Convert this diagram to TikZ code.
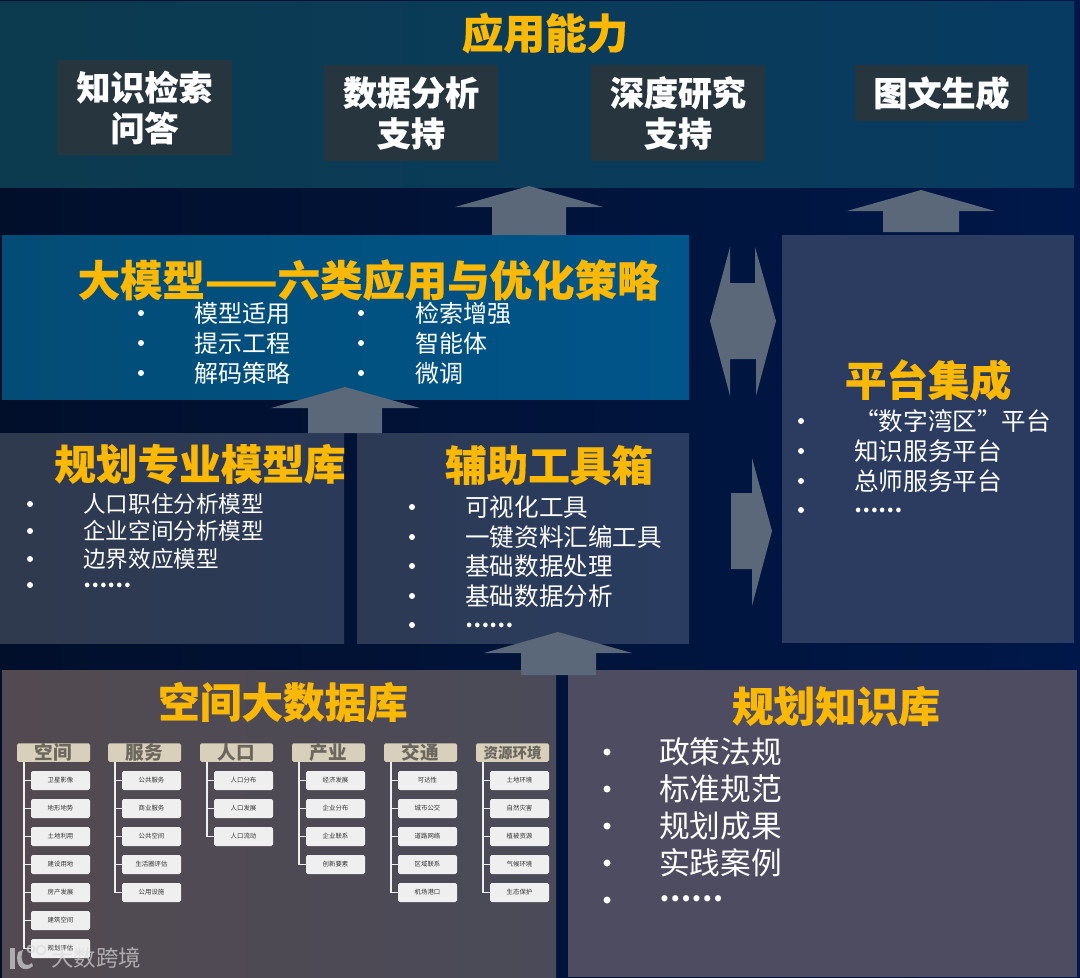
\documentclass[tikz,border=0pt]{standalone}
\usepackage{fontspec}
\setmainfont{Noto Sans CJK SC}
\newfontfamily\ttlf{Noto Sans CJK SC}[BoldFeatures={FakeBold=0.35}]
\definecolor{bgl}{HTML}{010F2B}
\definecolor{bgm}{HTML}{001642}
\definecolor{bgr}{HTML}{001849}
\definecolor{amber}{HTML}{FBB805}
\definecolor{arrowc}{HTML}{5A6879}
\definecolor{subbox}{HTML}{27353F}
\definecolor{hdrc}{HTML}{D8D0BB}
\definecolor{hdrt}{HTML}{6B665E}
\definecolor{leaf}{HTML}{EFEFEF}
\newcommand{\px}[1]{\fontsize{\dimexpr#1pt*3/4\relax}{\dimexpr#1pt*9/10\relax}\selectfont}
\newcommand{\panelbox}[6]{%
  \node[#6,minimum width={(#4-#2)*0.75pt},minimum height={(#5-#3)*0.75pt}] (#1) at ({(#2+#4)/2},{(#3+#5)/2}) {};}
\newcommand{\tbox}[7]{%
  \node[#6,minimum width={(#4-#2)*0.75pt},minimum height={(#5-#3)*0.75pt}] (#1) at ({(#2+#4)/2},{(#3+#5)/2}) {#7};}
\tikzset{
  panel/.style={rectangle,inner sep=0pt,outer sep=0pt,draw=none},
  capbox/.style={panel,fill=subbox,text=white,align=center,font=\px{34}\ttlf\bfseries},
  ttl/.style={inner sep=0pt,text=amber,font=\px{41.6}\ttlf\bfseries,anchor=center},
  item/.style={inner sep=0pt,text=white,anchor=west},
  dots/.style={item,font=\px{21.5}\bfseries},
  bul/.style={circle,fill=white,inner sep=0pt,minimum size=6*0.75pt},
  blockarrow/.style={fill=arrowc,draw=none},
  hdrbox/.style={panel,fill=hdrc,rounded corners=1.2pt,text=hdrt,font=\px{18.6}\bfseries},
  hdrsmall/.style={hdrbox,font=\px{14.5}\bfseries},
  leafbox/.style={panel,fill=leaf,rounded corners=1.2pt,text=black!80,font=\px{6.4}},
  twig/.style={draw=leaf,line width=1.1pt},
  wmark/.style={draw=none,fill=white!72!gray},
}
\begin{document}
\begin{tikzpicture}[x=0.75pt,y=-0.75pt]
\useasboundingbox (0,0) rectangle (1080,977);
\fill[left color=bgl,middle color=bgm,right color=bgr] (0,0) rectangle (1080,977);
% panels
\panelbox{ptop}{0}{2}{1074}{187}{panel,left color={rgb,255:red,12;green,59;blue,79},right color={rgb,255:red,8;green,59;blue,98}}
\panelbox{pllm}{2}{235}{689}{399}{panel,left color={rgb,255:red,3;green,76;blue,118},right color={rgb,255:red,0;green,85;blue,138}}
\panelbox{pmod}{0}{433}{344}{643}{panel,left color={rgb,255:red,48;green,58;blue,78},right color={rgb,255:red,42;green,58;blue,88}}
\panelbox{ptool}{357}{433}{689}{643}{panel,left color={rgb,255:red,44;green,58;blue,84},right color={rgb,255:red,42;green,60;blue,96}}
\panelbox{pplat}{782}{235}{1074}{643}{panel,fill={rgb,255:red,43;green,60;blue,96}}
\panelbox{pdata}{2}{670}{556}{977}{panel,left color={rgb,255:red,82;green,74;blue,80},right color={rgb,255:red,74;green,74;blue,88}}
\panelbox{pknow}{568}{670}{1077}{977}{panel,fill={rgb,255:red,77;green,76;blue,96}}
% block arrows
\fill[blockarrow] (492,235)--(492,207)--(455,207)--(529,186)--(603,207)--(566,207)--(566,235)--cycle;
\fill[blockarrow] (883,232)--(883,211)--(847,211)--(921,190)--(995,211)--(959,211)--(959,232)--cycle;
\fill[blockarrow] (308,433)--(308,408)--(271,408)--(345,387)--(420,408)--(382,408)--(382,433)--cycle;
\fill[blockarrow] (521,675)--(521,653)--(484,653)--(558,632)--(632,653)--(596,653)--(596,675)--cycle;
\fill[blockarrow] (710,321)--(730,247)--(730,283)--(755,283)--(755,247)--(776,321)--(756,396)--(756,359)--(730,359)--(730,396)--cycle;
\fill[blockarrow] (731,493)--(752,493)--(752,458)--(772,531)--(752,606)--(752,569)--(731,569)--cycle;
% top
\node[ttl] (t1) at (545,33) {应用能力};
\tbox{c1}{57}{60}{232}{155}{capbox}{知识检索\\问答}
\tbox{c2}{324}{65}{498}{161}{capbox}{数据分析\\支持}
\tbox{c3}{591}{65}{765}{161}{capbox}{深度研究\\支持}
\tbox{c4}{855}{65}{1028}{121}{capbox}{图文生成}
% llm
\node[ttl,font=\px{42.4}\ttlf\bfseries] (t2) at (368.5,280) {大模型——六类应用与优化策略};
\foreach \i/\y in {1/313,2/343,3/373}{\node[bul] (lb\i) at (141,\y) {}; \node[bul] (rb\i) at (361,\y) {};}
\node[item,font=\px{24}] (l1) at (194,313) {模型适用};
\node[item,font=\px{24}] (l2) at (194,343) {提示工程};
\node[item,font=\px{24}] (l3) at (194,373) {解码策略};
\node[item,font=\px{24}] (r1) at (415,313) {检索增强};
\node[item,font=\px{24}] (r2) at (415,343) {智能体};
\node[item,font=\px{24}] (r3) at (415,373) {微调};
% model lib
\node[ttl] (t3) at (200,464) {规划专业模型库};
\foreach \i/\y in {1/504,2/531,3/559,4/585}{\node[bul] (mb\i) at (30,\y) {};}
\node[item,font=\px{22.6}] (m1) at (83,504) {人口职住分析模型};
\node[item,font=\px{22.6}] (m2) at (83,531) {企业空间分析模型};
\node[item,font=\px{22.6}] (m3) at (83,559) {边界效应模型};
\node[dots] (m4) at (83,585) {……};
% tools
\node[ttl] (t4) at (549,465) {辅助工具箱};
\foreach \i/\y in {1/507,2/537,3/566,4/596,5/625}{\node[bul] (tb\i) at (412,\y) {};}
\node[item,font=\px{24.6}] (a1) at (465,507) {可视化工具};
\node[item,font=\px{24.6}] (a2) at (465,537) {一键资料汇编工具};
\node[item,font=\px{24.6}] (a3) at (465,566) {基础数据处理};
\node[item,font=\px{24.6}] (a4) at (465,596) {基础数据分析};
\node[dots] (a5) at (465,625) {……};
% platform
\node[ttl] (t5) at (928,380) {平台集成};
\foreach \i/\y in {1/421,2/451,3/481,4/510}{\node[bul] (pb\i) at (801,\y) {};}
\node[item,font=\px{24.6}] (f1) at (854,421) {“数字湾区”平台};
\node[item,font=\px{24.6}] (f2) at (854,451) {知识服务平台};
\node[item,font=\px{24.6}] (f3) at (854,481) {总师服务平台};
\node[dots] (f4) at (854,510) {……};
% knowledge
\node[ttl] (t6) at (836,706) {规划知识库};
\foreach \i/\y in {1/752,2/789,3/826,4/863,5/900}{\node[bul,minimum size=7*0.75pt] (kb\i) at (607,\y) {};}
\node[item,font=\px{30.7}] (k1) at (659,752) {政策法规};
\node[item,font=\px{30.7}] (k2) at (659,789) {标准规范};
\node[item,font=\px{30.7}] (k3) at (659,826) {规划成果};
\node[item,font=\px{30.7}] (k4) at (659,863) {实践案例};
\node[dots,font=\px{28.5}\bfseries] (k5) at (659,899) {……};
% database
\node[ttl] (t7) at (283,702) {空间大数据库};
\foreach \c/\xa/\hs/\lab/\items in {
  a/17/hdrbox/空间/{卫星影像,地形地势,土地利用,建设用地,房产发展,建筑空间,规划评估},
  b/108/hdrbox/服务/{公共服务,商业服务,公共空间,生活圈评估,公用设施},
  c/200/hdrbox/人口/{人口分布,人口发展,人口流动},
  d/292/hdrbox/产业/{经济发展,企业分布,企业联系,创新要素},
  e/384/hdrbox/交通/{可达性,城市公交,道路网络,区域联系,机场港口},
  f/476/hdrsmall/资源环境/{土地环境,自然灾害,植被资源,气候环境,生态保护}}{
  \node[\hs,minimum width=73*0.75pt,minimum height=18.5*0.75pt] (h\c) at ({\xa+36.5},752.5) {\lab};
  \foreach \t [count=\n] in \items {
    \node[leafbox,minimum width=59*0.75pt,minimum height=19*0.75pt] (\c\n) at ({\xa+14+29.5},{780.5+28*(\n-1)}) {\t};
    \draw[twig] ([xshift=5.2pt]h\c.south west) |- (\c\n.west);
  }
}
% watermark
\begin{scope}[opacity=.68]
\node[inner sep=0pt,text=white!72!gray,font=\px{22.5}] (wm) at (96,958) {大数跨境};
\fill[wmark] (10,948) rectangle (15,969);
\fill[wmark] (18,952) -- (23,950) .. controls (19,960) and (24,969) .. (32,963) -- (33,966) .. controls (24,974) and (14,966) .. (18,952) -- cycle;
\draw[white!72!gray,line width=1.4pt] (31,949) circle (3.5) (41,950) circle (4.5);
\end{scope}
\end{tikzpicture}
\end{document}
